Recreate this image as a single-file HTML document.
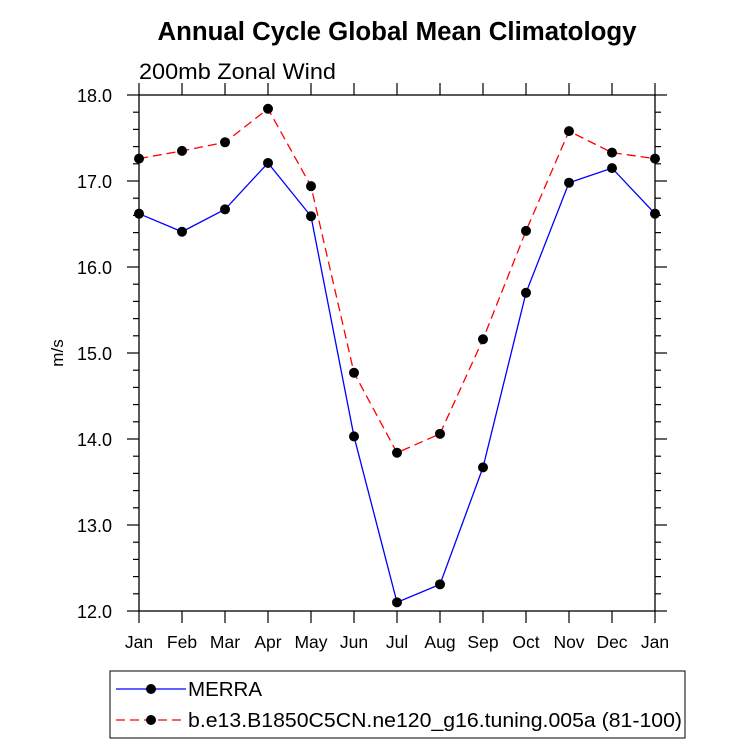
<!DOCTYPE html>
<html><head><meta charset="utf-8"><style>
body{margin:0;background:#fff;}
svg{display:block;font-family:"Liberation Sans",sans-serif;}
</style></head><body>
<svg id="chart" width="733" height="746" viewBox="0 0 733 746">
<text x="397" y="40" text-anchor="middle" font-size="25.5" font-weight="bold" textLength="479" lengthAdjust="spacingAndGlyphs">Annual Cycle Global Mean Climatology</text>
<text x="139" y="79" font-size="22" textLength="197" lengthAdjust="spacingAndGlyphs">200mb Zonal Wind</text>
<text transform="translate(63,353) rotate(-90)" text-anchor="middle" font-size="17">m/s</text>
<g id="axes"></g>
<g id="series"></g>
<rect x="110" y="671" width="575" height="67" fill="none" stroke="#000" stroke-width="1"/>
<g>
<line x1="116" y1="689" x2="186" y2="689" stroke="#0000ff" stroke-width="1.3"/>
<circle cx="151" cy="689" r="5" fill="#000"/>
<text x="188" y="696" font-size="20.5">MERRA</text>
</g>
<g>
<line x1="116" y1="720" x2="186" y2="720" stroke="#ff0000" stroke-width="1.3" stroke-dasharray="9,5"/>
<circle cx="151" cy="720" r="5" fill="#000"/>
<text x="188" y="727" font-size="20.5" textLength="494" lengthAdjust="spacingAndGlyphs">b.e13.B1850C5CN.ne120_g16.tuning.005a (81-100)</text>
</g>
</svg>
<script>
const months=["Jan","Feb","Mar","Apr","May","Jun","Jul","Aug","Sep","Oct","Nov","Dec","Jan"];
const merra=[16.62,16.41,16.67,17.21,16.59,14.03,12.10,12.31,13.67,15.70,16.98,17.15,16.62];
const model=[17.26,17.35,17.45,17.84,16.94,14.77,13.84,14.06,15.16,16.42,17.58,17.33,17.26];
const yTicks=[12,13,14,15,16,17,18];
const yTickLabels=["12.0","13.0","14.0","15.0","16.0","17.0","18.0"];
const X0=139,X1=655,Y0=95,Y1=611,YMIN=12,YMAX=18;
const xs=i=>X0+(X1-X0)*i/(months.length-1);
const ys=v=>Y1-(v-YMIN)/(YMAX-YMIN)*(Y1-Y0);
const NS="http://www.w3.org/2000/svg";
function mk(tag,attrs,parent){const e=document.createElementNS(NS,tag);for(const k in attrs)e.setAttribute(k,attrs[k]);parent.appendChild(e);return e;}
const ax=document.getElementById('axes');
const frame=mk('rect',{x:X0,y:Y0,width:X1-X0,height:Y1-Y0,fill:'none',stroke:'#000','stroke-width':1.3},ax);


months.forEach((m,i)=>{
  const x=xs(i);
  mk('line',{x1:x,y1:Y0,x2:x,y2:Y0-12,stroke:'#000','stroke-width':1.2},ax);
  mk('line',{x1:x,y1:Y1,x2:x,y2:Y1+12,stroke:'#000','stroke-width':1.2},ax);
  const t=mk('text',{x:x,y:Y1+37,'text-anchor':'middle','font-size':17.5},ax);
  t.textContent=m;
  
  
});
for(let v=YMIN;v<=YMAX+1e-9;v+=0.2){
  const y=ys(v);
  const major=Math.abs(v-Math.round(v))<1e-6;
  const L=major?12:6;
  mk('line',{x1:X0,y1:y,x2:X0-L,y2:y,stroke:'#000','stroke-width':1.2},ax);
  mk('line',{x1:X1,y1:y,x2:X1+L,y2:y,stroke:'#000','stroke-width':1.2},ax);
}
yTicks.forEach((v,i)=>{
  const t=mk('text',{x:X0-27,y:ys(v)+7,'text-anchor':'end','font-size':18},ax);
  t.textContent=yTickLabels[i];
  
  
});
const sg=document.getElementById('series');
function draw(vals,color,dash,name){
  const g=mk('g',{},sg);
  
  
  const pts=vals.map((v,i)=>xs(i)+','+ys(v)).join(' ');
  const a={points:pts,fill:'none',stroke:color,'stroke-width':1.3};
  if(dash)a['stroke-dasharray']=dash;
  mk('polyline',a,g);
  vals.forEach((v,i)=>{
    const c=mk('circle',{cx:xs(i),cy:ys(v),r:5,fill:'#000'},g);
    
    
  });
}
draw(merra,'#0000ff',null,'series-merra');
draw(model,'#ff0000','9,5','series-model');
</script>
</body></html>
